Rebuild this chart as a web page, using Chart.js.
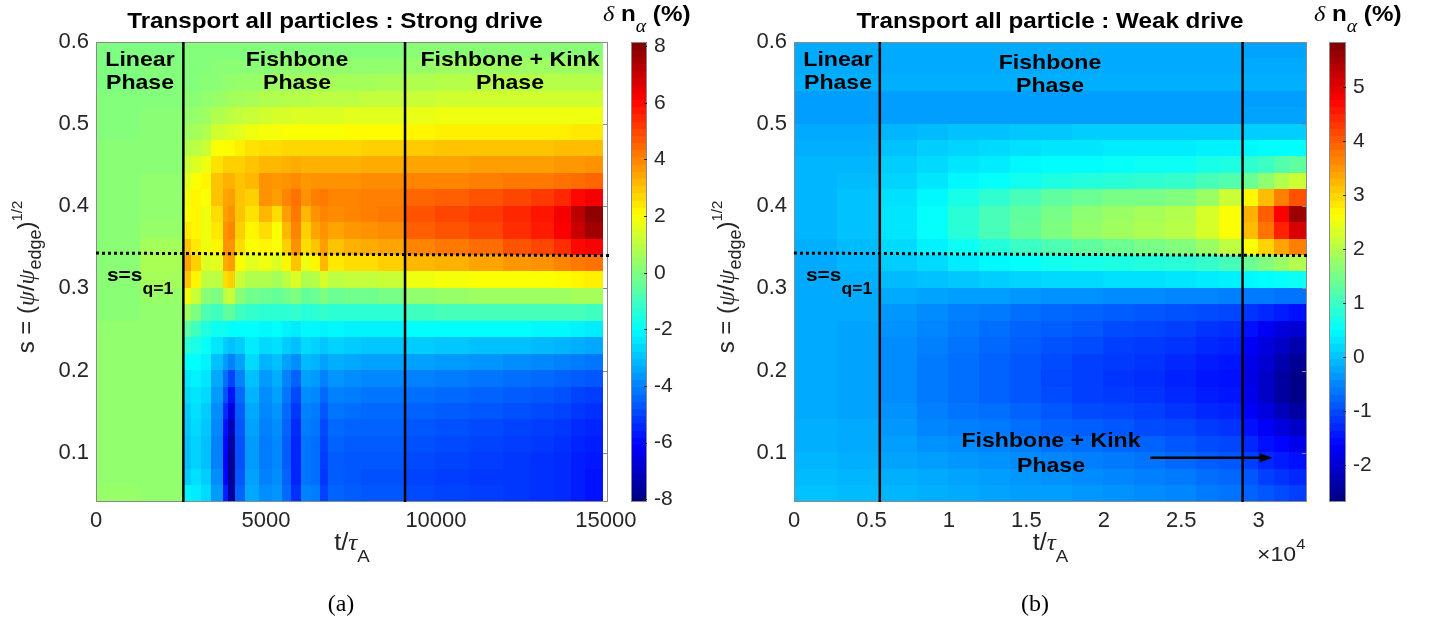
<!DOCTYPE html>
<html>
<head>
<meta charset="utf-8">
<script src="https://cdn.jsdelivr.net/npm/chart.js@4.4.1/dist/chart.umd.min.js"></script>
<style>
  body { margin: 0; background: #fff; width: 1434px; height: 622px; position: relative; overflow: hidden; }
  canvas { position: absolute; top: 0; }
</style>
</head>
<body>
<canvas id="mapA" width="660" height="622" style="left:0"></canvas>
<canvas id="barA" width="105" height="622" style="left:595px"></canvas>
<canvas id="mapB" width="622" height="622" style="left:700px"></canvas>
<canvas id="barB" width="144" height="622" style="left:1290px"></canvas>
<script>
// heatmaps of delta n_alpha (%) vs time (t/tau_A) and radius s

// cell edges in s (rows, top to bottom)
const sEdges = [0.60,0.58,0.56,0.54,0.52,0.50,0.48,0.46,0.44,0.42,0.40,0.38,0.36,0.34,0.32,0.30,0.28,0.26,0.24,0.22,0.20,0.18,0.16,0.14,0.12,0.10,0.08,0.06,0.04];

// (a) strong drive: cell edges in time
const tEdgesA = [0,1300,2570,2800,3100,3400,3750,3900,4100,4400,4800,5200,5500,5750,6050,6350,6600,6850,7300,7800,8300,9090,10000,11000,12000,12800,13500,14000,14400,14900];

// (a) values, one row per s cell
const deltaA = [
  [0.0,0.0, 0.1,0.1,0.1,0.1,0.1,0.1,0.1,0.1,0.1,0.1,0.1,0.1,0.1,0.1,0.1, 0.1,0.1,0.1,0.1, 0.2,0.2,0.2,0.2,0.2,0.2,0.2,0.2],
  [0.0,0.1, 0.1,0.1,0.1,0.2,0.2,0.2,0.2,0.2,0.2,0.3,0.3,0.3,0.3,0.3,0.3, 0.3,0.3,0.3,0.3, 0.4,0.5,0.5,0.5,0.5,0.5,0.5,0.5],
  [0.0,0.1, 0.1,0.1,0.2,0.2,0.3,0.3,0.4,0.4,0.5,0.5,0.5,0.5,0.6,0.6,0.6, 0.6,0.6,0.6,0.7, 0.8,0.9,0.9,0.9,0.9,0.9,0.9,0.9],
  [0.1,0.1, 0.2,0.2,0.3,0.4,0.5,0.6,0.6,0.7,0.8,0.8,0.9,0.9,0.9,1.0,1.0, 1.0,1.0,1.1,1.1, 1.2,1.3,1.3,1.3,1.3,1.3,1.3,1.3],
  [0.1,0.2, 0.3,0.4,0.5,0.8,0.9,1.0,1.1,1.2,1.3,1.4,1.4,1.5,1.5,1.5,1.5, 1.5,1.6,1.6,1.6, 1.7,1.8,1.8,1.8,1.8,1.8,1.8,1.8],
  [0.1,0.2, 0.5,0.6,0.8,1.3,1.4,1.5,1.6,1.8,1.9,1.9,2.0,2.0,2.0,2.0,2.0, 2.0,2.1,2.1,2.1, 2.2,2.3,2.3,2.3,2.3,2.3,2.4,2.4],
  [0.2,0.2, 0.8,1.0,1.2,2.0,2.1,2.1,2.3,2.5,2.6,2.6,2.7,2.7,2.7,2.7,2.7, 2.7,2.7,2.8,2.8, 2.9,3.0,3.0,3.0,3.0,3.1,3.1,3.1],
  [0.2,0.2, 1.2,1.5,1.8,2.5,2.8,2.8,2.8,3.0,3.2,3.2,3.3,3.4,3.3,3.3,3.3, 3.3,3.3,3.4,3.4, 3.5,3.5,3.6,3.6,3.6,3.7,3.7,3.8],
  [0.2,0.3, 1.6,2.0,2.2,3.0,3.3,3.3,3.0,3.2,3.8,3.7,3.8,3.9,3.7,3.8,3.8, 3.8,3.8,3.9,3.9, 4.0,4.0,4.1,4.2,4.2,4.3,4.4,4.5],
  [0.2,0.3, 1.8,2.2,2.0,3.0,3.5,3.6,3.0,2.8,3.8,3.6,4.0,4.3,3.8,4.1,4.2, 4.0,4.0,4.1,4.1, 4.5,4.6,4.8,5.0,5.2,5.5,6.0,6.3],
  [0.2,0.3, 2.0,2.2,1.8,2.6,3.6,3.8,3.0,2.5,3.2,2.6,3.6,4.2,3.2,3.8,4.0, 3.9,4.0,4.1,4.2, 4.8,5.0,5.2,5.5,5.8,6.3,7.2,7.9],
  [0.2,0.4, 2.4,2.2,1.8,2.4,3.8,4.0,2.8,2.2,2.6,2.0,3.2,4.0,2.8,3.5,3.8, 3.5,3.7,3.8,3.9, 4.6,4.8,5.0,5.4,5.7,6.2,7.0,7.6],
  [0.2,0.6, 3.0,2.4,1.8,2.2,3.8,3.8,2.6,2.0,2.2,2.0,2.8,3.8,2.6,3.0,3.6, 3.0,3.3,3.4,3.5, 4.0,4.2,4.4,4.8,5.0,5.4,6.0,6.2],
  [0.2,0.7, 3.5,2.8,1.5,1.6,3.4,3.6,2.0,1.6,1.8,1.5,2.2,3.0,1.8,2.2,3.2, 2.4,2.6,2.6,2.8, 3.2,3.3,3.5,3.7,3.8,4.0,4.2,4.3],
  [0.2,0.6, 3.0,2.2,1.0,1.0,2.6,2.8,1.2,0.8,0.8,0.6,1.0,1.5,0.8,0.9,1.4, 1.0,1.1,1.1,1.2, 1.8,1.9,2.0,2.0,2.0,2.1,2.2,2.3],
  [0.2,0.4, 1.8,1.2,0.2,0.0,1.0,1.2,0.2,-0.2,-0.3,-0.4,-0.2,0.0,-0.4,-0.3,0.0, -0.3,-0.2,-0.2,-0.1, 0.3,0.4,0.5,0.5,0.5,0.5,0.6,0.6],
  [0.2,0.3, 0.5,0.0,-0.8,-1.0,-0.5,-0.5,-1.0,-1.2,-1.3,-1.3,-1.3,-1.2,-1.4,-1.3,-1.2, -1.3,-1.3,-1.3,-1.3, -1.0,-0.9,-0.9,-0.9,-0.9,-0.9,-0.9,-1.0],
  [0.3,0.3, -0.5,-1.0,-1.5,-1.8,-1.8,-2.0,-2.0,-2.0,-2.1,-2.0,-2.2,-2.3,-2.1,-2.1,-2.2, -2.1,-2.2,-2.2,-2.2, -2.0,-2.0,-2.0,-2.0,-2.1,-2.1,-2.2,-2.3],
  [0.3,0.3, -1.3,-1.6,-1.9,-2.4,-2.8,-3.0,-2.8,-2.3,-2.6,-2.5,-2.8,-3.0,-2.6,-2.7,-2.9, -2.7,-2.8,-2.9,-2.9, -2.8,-2.9,-3.0,-3.0,-3.1,-3.2,-3.3,-3.4],
  [0.3,0.3, -2.0,-2.0,-2.2,-3.0,-3.6,-4.0,-3.5,-2.6,-3.2,-3.0,-3.5,-3.8,-3.1,-3.2,-3.5, -3.3,-3.4,-3.5,-3.5, -3.5,-3.6,-3.7,-3.8,-3.9,-4.0,-4.1,-4.2],
  [0.3,0.3, -2.4,-2.2,-2.4,-3.4,-4.3,-5.0,-4.0,-3.0,-3.6,-3.3,-4.0,-4.5,-3.5,-3.6,-4.0, -3.7,-3.8,-3.9,-3.9, -4.0,-4.1,-4.2,-4.3,-4.4,-4.5,-4.6,-4.7],
  [0.3,0.3, -2.6,-2.4,-2.6,-3.6,-4.8,-5.8,-4.4,-3.2,-3.8,-3.5,-4.2,-4.9,-3.8,-3.9,-4.4, -4.0,-4.1,-4.2,-4.2, -4.3,-4.4,-4.5,-4.6,-4.7,-4.8,-5.0,-5.1],
  [0.3,0.3, -2.8,-2.5,-2.8,-3.8,-5.4,-6.6,-4.6,-3.4,-3.9,-3.7,-4.4,-5.2,-4.0,-4.1,-4.7, -4.2,-4.3,-4.4,-4.4, -4.5,-4.6,-4.7,-4.8,-4.9,-5.0,-5.2,-5.3],
  [0.3,0.3, -2.9,-2.6,-2.9,-3.9,-5.8,-7.2,-4.7,-3.5,-4.0,-3.8,-4.5,-5.4,-4.1,-4.2,-4.9, -4.4,-4.5,-4.5,-4.5, -4.7,-4.8,-4.9,-5.0,-5.1,-5.2,-5.4,-5.5],
  [0.3,0.3, -3.0,-2.7,-3.0,-4.0,-6.0,-7.6,-4.8,-3.6,-4.1,-3.9,-4.6,-5.5,-4.2,-4.3,-5.0, -4.5,-4.6,-4.6,-4.6, -4.8,-4.9,-5.0,-5.1,-5.2,-5.3,-5.5,-5.6],
  [0.3,0.3, -3.0,-2.7,-3.0,-4.0,-6.1,-7.8,-4.8,-3.6,-4.1,-3.9,-4.6,-5.5,-4.2,-4.3,-5.1, -4.6,-4.7,-4.7,-4.7, -4.9,-5.0,-5.1,-5.2,-5.3,-5.4,-5.6,-5.7],
  [0.3,0.3, -2.8,-2.5,-2.8,-3.8,-6.0,-7.8,-4.7,-3.5,-4.0,-3.8,-4.5,-5.5,-4.2,-4.3,-5.2, -4.6,-4.7,-4.8,-4.8, -5.0,-5.1,-5.2,-5.2,-5.3,-5.4,-5.6,-5.8],
  [0.4,0.3, -2.2,-2.3,-2.6,-3.6,-5.6,-7.6,-4.5,-3.4,-3.8,-3.7,-4.4,-5.3,-4.0,-4.1,-5.0, -4.5,-4.6,-4.7,-4.7, -4.9,-5.0,-5.1,-5.2,-5.3,-5.4,-5.6,-5.8]
];

// (b) weak drive: cell edges in time
const tEdgesB = [0,2800,5550,8000,10000,12000,14000,16000,18000,20000,22000,24000,26000,27500,28960,30000,31000,32000,33100];

// (b) values, one row per s cell
const deltaB = [
  [-0.2,-0.2,-0.2,-0.2,-0.2,-0.2,-0.2,-0.2,-0.2,-0.2,-0.2,-0.2,-0.2,-0.2,-0.25,-0.25,-0.25,-0.25],
  [-0.2,-0.2,-0.2,-0.2,-0.2,-0.2,-0.2,-0.2,-0.2,-0.2,-0.2,-0.2,-0.2,-0.2,-0.2,-0.2,-0.2,-0.2],
  [-0.15,-0.15,-0.15,-0.15,-0.15,-0.15,-0.15,-0.15,-0.15,-0.15,-0.15,-0.15,-0.15,-0.15,-0.15,-0.15,-0.15,-0.15],
  [-0.3,-0.3,-0.3,-0.3,-0.3,-0.3,-0.3,-0.3,-0.3,-0.3,-0.3,-0.3,-0.3,-0.3,-0.3,-0.3,-0.3,-0.3],
  [-0.3,-0.3,-0.3,-0.3,-0.3,-0.3,-0.3,-0.3,-0.3,-0.3,-0.3,-0.3,-0.3,-0.3,-0.25,-0.25,-0.25,-0.25],
  [-0.2,-0.2,-0.1,-0.05,0,0,0.05,0.05,0.1,0.1,0.1,0.1,0.1,0.1,0.1,0.1,0.1,0.1],
  [-0.15,-0.15,0,0.1,0.15,0.2,0.25,0.3,0.3,0.35,0.35,0.35,0.4,0.4,0.45,0.5,0.5,0.5],
  [-0.1,-0.1,0.1,0.2,0.3,0.35,0.45,0.5,0.5,0.55,0.6,0.6,0.7,0.75,0.9,1.0,1.2,1.3],
  [-0.1,-0.05,0.15,0.3,0.45,0.55,0.65,0.75,0.8,0.85,0.9,0.95,1.1,1.2,1.4,1.7,2.0,2.2],
  [-0.1,0,0.25,0.45,0.7,0.9,1.1,1.3,1.4,1.5,1.5,1.6,1.8,2.2,2.7,3.2,3.7,4.1],
  [-0.1,0,0.3,0.55,0.85,1.1,1.3,1.5,1.7,1.8,1.9,2.0,2.3,2.6,3.3,4.0,4.8,5.6],
  [-0.1,0,0.3,0.55,0.85,1.1,1.35,1.55,1.75,1.85,1.95,2.05,2.3,2.6,3.2,3.8,4.5,5.1],
  [-0.15,-0.05,0.2,0.4,0.6,0.8,1.0,1.15,1.3,1.4,1.5,1.6,1.8,2.1,2.6,3.0,3.4,3.7],
  [-0.2,-0.1,0.1,0.2,0.35,0.45,0.55,0.65,0.7,0.75,0.8,0.85,0.95,1.1,1.4,1.6,1.8,2.0],
  [-0.2,-0.15,-0.05,0,0.05,0.1,0.15,0.2,0.2,0.25,0.25,0.3,0.35,0.4,0.45,0.5,0.55,0.6],
  [-0.2,-0.2,-0.2,-0.25,-0.3,-0.3,-0.35,-0.4,-0.4,-0.45,-0.45,-0.5,-0.5,-0.55,-0.6,-0.6,-0.65,-0.65],
  [-0.2,-0.2,-0.35,-0.45,-0.55,-0.6,-0.7,-0.75,-0.8,-0.85,-0.9,-0.95,-1.0,-1.05,-1.2,-1.3,-1.4,-1.5],
  [-0.2,-0.25,-0.4,-0.5,-0.6,-0.7,-0.8,-0.85,-0.9,-1.0,-1.05,-1.1,-1.2,-1.25,-1.5,-1.7,-1.9,-2.0],
  [-0.2,-0.25,-0.45,-0.55,-0.65,-0.75,-0.85,-0.95,-1.0,-1.1,-1.15,-1.2,-1.3,-1.35,-1.7,-1.9,-2.1,-2.3],
  [-0.2,-0.25,-0.45,-0.6,-0.7,-0.8,-0.9,-1.0,-1.1,-1.15,-1.2,-1.3,-1.4,-1.45,-1.8,-2.0,-2.3,-2.5],
  [-0.2,-0.25,-0.45,-0.6,-0.7,-0.8,-0.9,-1.05,-1.1,-1.2,-1.25,-1.35,-1.45,-1.5,-1.85,-2.1,-2.4,-2.6],
  [-0.2,-0.25,-0.45,-0.6,-0.7,-0.8,-0.9,-1.0,-1.1,-1.15,-1.2,-1.3,-1.4,-1.45,-1.8,-2.1,-2.4,-2.6],
  [-0.2,-0.25,-0.4,-0.55,-0.65,-0.7,-0.8,-0.9,-1.0,-1.05,-1.1,-1.2,-1.3,-1.35,-1.7,-1.9,-2.2,-2.4],
  [-0.15,-0.2,-0.35,-0.5,-0.55,-0.6,-0.7,-0.8,-0.85,-0.9,-1.0,-1.05,-1.15,-1.2,-1.5,-1.7,-1.9,-2.1],
  [-0.15,-0.2,-0.3,-0.4,-0.45,-0.5,-0.55,-0.65,-0.7,-0.75,-0.8,-0.9,-1.0,-1.05,-1.3,-1.5,-1.6,-1.8],
  [-0.1,-0.15,-0.25,-0.3,-0.35,-0.4,-0.45,-0.5,-0.55,-0.6,-0.65,-0.75,-0.85,-0.9,-1.1,-1.3,-1.4,-1.5],
  [-0.05,-0.1,-0.15,-0.2,-0.25,-0.3,-0.35,-0.4,-0.45,-0.5,-0.55,-0.6,-0.7,-0.75,-0.9,-1.1,-1.2,-1.3],
  [0,-0.05,-0.1,-0.15,-0.2,-0.25,-0.3,-0.3,-0.35,-0.4,-0.45,-0.5,-0.6,-0.65,-0.8,-0.9,-1.0,-1.1]
];

// ticks, colour limits, markers
const xTicksA = [0, 5000, 10000, 15000];
const xTicksB = [0, 5000, 10000, 15000, 20000, 25000, 30000];
const yTicks = [0.1, 0.2, 0.3, 0.4, 0.5, 0.6];
const cbTicksA = [-8, -6, -4, -2, 0, 2, 4, 6, 8];
const cbTicksB = [-2, -1, 0, 1, 2, 3, 4, 5];
const climA = [-8.1, 8.15];
const climB = [-2.69, 5.84];
const phaseLinesA = [2570, 9090];
const phaseLinesB = [5540, 28960];
const q1Line = [0.343, 0.340];   // s=s_q=1 at left / right end
const arrowB = [23000, 30900, 0.094];

const SANS = '"Liberation Sans", Arial, sans-serif';
const SERIF = '"Liberation Serif", "DejaVu Serif", serif';
const INK = '#262626';
const SX = 1.1; // the figure text is a bit wide

// matlab jet colormap
function jet(f) {
    f = Math.min(1, Math.max(0, f));
    const c = v => Math.round(255 * Math.min(1, Math.max(0, v)));
    return 'rgb(' + c(1.5 - Math.abs(4 * f - 3)) + ',' + c(1.5 - Math.abs(4 * f - 2)) + ',' + c(1.5 - Math.abs(4 * f - 1)) + ')';
}

// text made of pieces: [text, font, dy]
function drawParts(ctx, x, y, parts, align, sx) {
    ctx.save();
    ctx.translate(x, y);
    ctx.scale(sx || 1, 1);
    ctx.textAlign = 'left';
    ctx.textBaseline = 'alphabetic';
    let w = 0;
    parts.forEach(p => { ctx.font = p[1]; w += ctx.measureText(p[0]).width; });
    let cx = align === 'left' ? 0 : (align === 'right' ? -w : -w / 2);
    parts.forEach(p => {
        ctx.font = p[1];
        ctx.fillText(p[0], cx, p[2] || 0);
        cx += ctx.measureText(p[0]).width;
    });
    ctx.restore();
}

function heatmapPlugin(tEdges, grid, clim) {
    return {
        id: 'heatmap',
        beforeDatasetsDraw(chart) {
            const {ctx, chartArea: a, scales: {x, y}} = chart;
            ctx.save();
            ctx.beginPath();
            ctx.rect(a.left, a.top, a.right - a.left, a.bottom - a.top);
            ctx.clip();
            for (let j = 0; j < grid.length; j++) {
                const y0 = Math.floor(y.getPixelForValue(sEdges[j]));
                const y1 = Math.ceil(y.getPixelForValue(sEdges[j + 1]));
                for (let i = 0; i < grid[j].length; i++) {
                    const x0 = Math.floor(x.getPixelForValue(tEdges[i]));
                    const x1 = Math.ceil(x.getPixelForValue(tEdges[i + 1]));
                    ctx.fillStyle = jet((grid[j][i] - clim[0]) / (clim[1] - clim[0]));
                    ctx.fillRect(x0, y0, x1 - x0 + (i < grid[j].length - 1 ? 1 : 0), y1 - y0 + 1);
                }
            }
            ctx.restore();
        }
    };
}

function overlayPlugin(cfg) {
    return {
        id: 'overlay',
        afterDatasetsDraw(chart) {
            const {ctx, chartArea: a, scales: {x, y}} = chart;
            ctx.save();
            // axes box + right ticks
            ctx.strokeStyle = '#8a8a8a';
            ctx.lineWidth = 1;
            ctx.strokeRect(a.left + 0.5, a.top + 0.5, a.right - a.left - 1, a.bottom - a.top - 1);
            yTicks.forEach(v => {
                const py = Math.round(y.getPixelForValue(v)) + 0.5;
                ctx.beginPath(); ctx.moveTo(a.right, py); ctx.lineTo(a.right - 5, py); ctx.stroke();
            });
            // phase lines
            ctx.strokeStyle = '#000';
            ctx.lineWidth = 2.5;
            cfg.phaseLines.forEach(t => {
                const px = x.getPixelForValue(t);
                ctx.beginPath(); ctx.moveTo(px, a.top); ctx.lineTo(px, a.bottom); ctx.stroke();
            });
            // q=1 surface
            ctx.lineWidth = 3;
            ctx.setLineDash([3, 3]);
            ctx.beginPath();
            ctx.moveTo(a.left, y.getPixelForValue(q1Line[0]));
            ctx.lineTo(a.right + 3, y.getPixelForValue(q1Line[1]));
            ctx.stroke();
            ctx.setLineDash([]);
            // arrow
            if (cfg.arrow) {
                const ax0 = x.getPixelForValue(cfg.arrow[0]);
                const ax1 = x.getPixelForValue(cfg.arrow[1]);
                const ay = y.getPixelForValue(cfg.arrow[2]);
                ctx.lineWidth = 2.5;
                ctx.beginPath(); ctx.moveTo(ax0, ay); ctx.lineTo(ax1 - 8, ay); ctx.stroke();
                ctx.fillStyle = '#000';
                ctx.beginPath(); ctx.moveTo(ax1, ay); ctx.lineTo(ax1 - 13, ay - 4.5); ctx.lineTo(ax1 - 13, ay + 4.5); ctx.closePath(); ctx.fill();
            }
            // annotations
            ctx.fillStyle = '#000';
            cfg.notes.forEach(n => drawParts(ctx, n.x, n.y, n.parts, n.align, SX));
            ctx.restore();
        },
        afterDraw(chart) {
            const {ctx, chartArea: a} = chart;
            ctx.save();
            ctx.fillStyle = '#000';
            drawParts(ctx, cfg.titleX, 28, [[cfg.title, 'bold 22px ' + SANS]], 'center', SX);
            ctx.fillStyle = INK;
            // y title
            ctx.save();
            ctx.translate(34, 277);
            ctx.rotate(-Math.PI / 2);
            drawParts(ctx, 0, 0, [
                ['s = (', '24px ' + SANS], ['\u03c8', 'italic 24px ' + SERIF], ['/', '24px ' + SANS],
                ['\u03c8', 'italic 24px ' + SERIF], ['edge', '18px ' + SANS, 7], [')', '24px ' + SANS],
                ['1/2', '15px ' + SANS, -12]
            ], 'center');
            ctx.restore();
            // x title
            const cx = (a.left + a.right) / 2;
            drawParts(ctx, cx, 550, [['t/', '23px ' + SANS], ['\u03c4', 'italic 23px ' + SERIF], ['A', '17px ' + SANS, 12]], 'center', SX);
            if (cfg.exponent) {
                drawParts(ctx, cfg.exponent, 561, [['\u00d710', '21px ' + SANS], ['4', '15px ' + SANS, -12]], 'left', SX);
            }
            // caption
            ctx.fillStyle = '#000';
            drawParts(ctx, cfg.captionX, 611, [[cfg.caption, '24px ' + SERIF]], 'center');
            ctx.restore();
        }
    };
}

function mapChart(id, o) {
    return new Chart(document.getElementById(id), {
        type: 'scatter',
        data: { datasets: [{ data: [] }] },
        options: {
            responsive: false,
            animation: false,
            devicePixelRatio: 1,
            layout: { padding: { top: 42, right: o.padRight, left: 0, bottom: 0 } },
            scales: {
                x: {
                    type: 'linear', min: 0, max: o.xMax,
                    afterBuildTicks: s => { s.ticks = o.xTicks.map(v => ({ value: v })); },
                    afterFit: s => { s.height = 120; s.paddingLeft = 0; s.paddingRight = 0; },
                    grid: { display: false, drawTicks: false },
                    border: { display: false },
                    ticks: { callback: o.xLabel, font: { family: SANS, size: 22 }, color: INK, padding: 6, maxRotation: 0, autoSkip: false }
                },
                y: {
                    type: 'linear', min: 0.04, max: 0.6,
                    afterBuildTicks: s => { s.ticks = yTicks.map(v => ({ value: v })); },
                    afterFit: s => { s.width = o.yWidth; s.paddingTop = 0; s.paddingBottom = 0; },
                    grid: { display: false, drawTicks: false },
                    border: { display: false },
                    ticks: { callback: v => v.toFixed(1), font: { family: SANS, size: 22 }, color: INK, padding: 7 }
                }
            },
            plugins: { legend: { display: false }, tooltip: { enabled: false } }
        },
        plugins: [heatmapPlugin(o.tEdges, o.grid, o.clim), overlayPlugin(o)]
    });
}

function colorbarChart(id, clim, ticks, padLeft, axisWidth, labelX) {
    return new Chart(document.getElementById(id), {
        type: 'scatter',
        data: { datasets: [{ data: [] }] },
        options: {
            responsive: false,
            animation: false,
            devicePixelRatio: 1,
            layout: { padding: { top: 42, left: padLeft, right: 0, bottom: 120 } },
            scales: {
                x: { display: false, min: 0, max: 1 },
                y: {
                    position: 'right', min: clim[0], max: clim[1],
                    afterBuildTicks: s => { s.ticks = ticks.map(v => ({ value: v })); },
                    afterFit: s => { s.width = axisWidth; s.paddingTop = 0; s.paddingBottom = 0; },
                    grid: { display: false, drawTicks: false },
                    border: { display: false },
                    ticks: { font: { family: SANS, size: 21 }, color: INK, padding: 7 }
                }
            },
            plugins: { legend: { display: false }, tooltip: { enabled: false } }
        },
        plugins: [{
            id: 'colorbar',
            beforeDatasetsDraw(chart) {
                const {ctx, chartArea: a, scales: {y}} = chart;
                const n = 64;
                ctx.save();
                for (let k = 0; k < n; k++) {
                    const lo = clim[0] + (clim[1] - clim[0]) * k / n;
                    const hi = clim[0] + (clim[1] - clim[0]) * (k + 1) / n;
                    const y0 = Math.floor(y.getPixelForValue(hi));
                    const y1 = Math.ceil(y.getPixelForValue(lo));
                    ctx.fillStyle = jet((k + 0.5) / n);
                    ctx.fillRect(a.left, y0, a.right - a.left, y1 - y0);
                }
                ctx.strokeStyle = '#8a8a8a';
                ctx.lineWidth = 1;
                ctx.strokeRect(a.left + 0.5, a.top + 0.5, a.right - a.left - 1, a.bottom - a.top - 1);
                ctx.strokeStyle = INK;
                ticks.forEach(v => {
                    const py = Math.round(y.getPixelForValue(v)) + 0.5;
                    ctx.beginPath(); ctx.moveTo(a.right, py); ctx.lineTo(a.right - 3, py); ctx.stroke();
                });
                // label
                ctx.fillStyle = '#000';
                drawParts(ctx, labelX, 21, [
                    ['\u03b4', 'italic 22px ' + SERIF], [' n', 'bold 22px ' + SANS],
                    ['\u03b1', 'italic 18px ' + SERIF, 11], [' (%)', 'bold 22px ' + SANS]
                ], 'left', SX);
                ctx.restore();
            }
        }]
    });
}

// (a) strong drive
mapChart('mapA', {
    tEdges: tEdgesA, grid: deltaA, clim: climA, xMax: 15060, xTicks: xTicksA,
    xLabel: v => String(v), yWidth: 96, padRight: 52,
    phaseLines: phaseLinesA,
    title: 'Transport all particles : Strong drive', titleX: 335,
    caption: '(a)', captionX: 341,
    notes: [
        { x: 140, y: 66, parts: [['Linear', 'bold 21px ' + SANS]] },
        { x: 140, y: 89, parts: [['Phase', 'bold 21px ' + SANS]] },
        { x: 297, y: 66, parts: [['Fishbone', 'bold 21px ' + SANS]] },
        { x: 297, y: 89, parts: [['Phase', 'bold 21px ' + SANS]] },
        { x: 510, y: 66, parts: [['Fishbone + Kink', 'bold 21px ' + SANS]] },
        { x: 510, y: 89, parts: [['Phase', 'bold 21px ' + SANS]] },
        { x: 107, y: 281, align: 'left', parts: [['s=s', 'bold 19px ' + SANS], ['q=1', 'bold 16px ' + SANS, 13]] }
    ]
});
colorbarChart('barA', climA, cbTicksA, 36, 53, 8);

// (b) weak drive
mapChart('mapB', {
    tEdges: tEdgesB, grid: deltaB, clim: climB, xMax: 33120, xTicks: xTicksB,
    xLabel: v => String(v / 10000), yWidth: 94, padRight: 15,
    phaseLines: phaseLinesB, arrow: arrowB,
    title: 'Transport all particle : Weak drive', titleX: 350,
    caption: '(b)', captionX: 335, exponent: 557,
    notes: [
        { x: 138, y: 66, parts: [['Linear', 'bold 21px ' + SANS]] },
        { x: 138, y: 89, parts: [['Phase', 'bold 21px ' + SANS]] },
        { x: 350, y: 69, parts: [['Fishbone', 'bold 21px ' + SANS]] },
        { x: 350, y: 92, parts: [['Phase', 'bold 21px ' + SANS]] },
        { x: 351, y: 447, parts: [['Fishbone + Kink', 'bold 21px ' + SANS]] },
        { x: 351, y: 472, parts: [['Phase', 'bold 21px ' + SANS]] },
        { x: 106, y: 281, align: 'left', parts: [['s=s', 'bold 19px ' + SANS], ['q=1', 'bold 16px ' + SANS, 13]] }
    ]
});
colorbarChart('barB', climB, cbTicksB, 39, 88, 24);
</script>
</body>
</html>
